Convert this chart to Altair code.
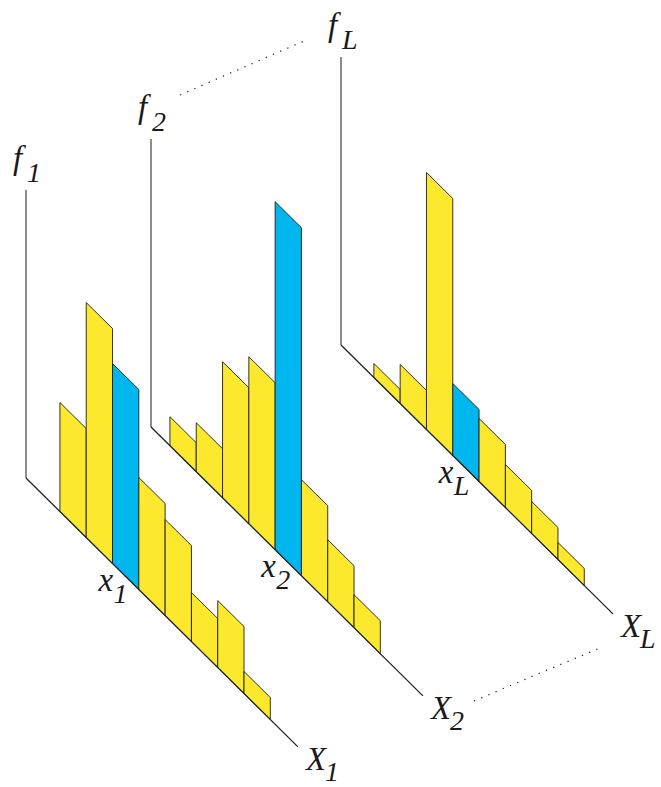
import altair as alt
import pandas as pd

W, H = 661, 787

# ---- data: frequency histograms of the L variables -------------------------
panel_names = ["1", "2", "L"]
freq_1 = [10.9, 23.5, 20.0, 11.2, 9.6, 4.9, 6.7, 2.2]
freq_2 = [2.9, 4.9, 13.6, 16.7, 34.8, 9.6, 6.2, 3.3]
freq_L = [1.4, 3.9, 25.7, 7.2, 6.3, 4.3, 3.2, 1.7]
observed_bin = [2, 4, 3]          # bin that holds the observed value x_k
freqs = [freq_1, freq_2, freq_L]

# ---- oblique projection layout ----------------------------------------------
origin_x = [26, 151, 341]         # corner of each panel (foot of the f axis)
origin_y = [478, 427, 345]
first_bin = [1.29, 0.72, 1.25]    # offset of the first bin along the X axis
AXIS_LEN = 288                    # height of the vertical f axis
AXIS_BINS = 10.34                 # length of the X axis in bin units
BIN_DX, BIN_DY = 26.3, 26.0       # screen step of one bin along the X axis
PX_PER_UNIT = 10.0                # screen pixels per unit of frequency

YELLOW = "#FCE82C"
BLUE = "#00B6EE"
FONT = "Liberation Serif"
MAIN_SIZE = 33
SUB_SIZE = 28


def proj(p, u, v=0.0):
    """Screen position of bin coordinate u and frequency v in panel p."""
    return (origin_x[p] + u * BIN_DX, origin_y[p] + u * BIN_DY - v * PX_PER_UNIT)


# bars as parallelograms: two rows (left / right edge) per bar
bar_rows = []
for p in reversed(range(len(panel_names))):
    for i, f in enumerate(freqs[p]):
        kind = "obs" if i == observed_bin[p] else "other"
        for u in (first_bin[p] + i, first_bin[p] + i + 1):
            x, ytop = proj(p, u, f)
            _, ybot = proj(p, u, 0.0)
            bar_rows.append({"bar": f"{panel_names[p]}-{i}", "kind": kind,
                             "x": x, "ytop": ytop, "ybot": ybot})
bars = pd.DataFrame(bar_rows)

# vertical f axes and oblique X axes
f_axes, x_axes = [], []
for p in range(len(panel_names)):
    x0, y0 = proj(p, 0)
    x1, y1 = proj(p, AXIS_BINS)
    f_axes.append({"x": x0, "y": y0 - AXIS_LEN, "x2": x0, "y2": y0})
    x_axes.append({"x": x0, "y": y0, "x2": x1, "y2": y1})
f_axes = pd.DataFrame(f_axes)
x_axes = pd.DataFrame(x_axes)

# dotted connectors between panel 2 and panel L (the omitted panels)
ax2_top = (origin_x[1], origin_y[1] - AXIS_LEN)
axL_top = (origin_x[2], origin_y[2] - AXIS_LEN)
end2 = proj(1, AXIS_BINS)
endL = proj(2, AXIS_BINS)
dots = pd.DataFrame([
    {"x": ax2_top[0] + 29, "y": ax2_top[1] - 44, "x2": axL_top[0] - 37, "y2": axL_top[1] - 16},
    {"x": end2[0] + 51, "y": end2[1] + 5, "x2": endL[0] - 15, "y2": endL[1] + 35},
])

# labels: main letter + subscript
main_lbl, sub_lbl = [], []
for p, name in enumerate(panel_names):
    ax_x, ax_y = origin_x[p], origin_y[p] - AXIS_LEN
    main_lbl.append({"x": ax_x - 13, "y": ax_y - 21, "t": "f"})
    sub_lbl.append({"x": ax_x + 1, "y": ax_y - 8, "t": name})

    ex, ey = proj(p, AXIS_BINS)
    main_lbl.append({"x": ex + 8, "y": ey + 23, "t": "X"})
    sub_lbl.append({"x": ex + 27, "y": ey + 34, "t": name})

    bx, by = proj(p, first_bin[p] + observed_bin[p])
    main_lbl.append({"x": bx - 14, "y": by + 27, "t": "x"})
    sub_lbl.append({"x": bx + 1, "y": by + 39, "t": name})
main_lbl = pd.DataFrame(main_lbl)
sub_lbl = pd.DataFrame(sub_lbl)

xs = alt.Scale(domain=[0, W], range=[0, W], nice=False, zero=False)
ys = alt.Scale(domain=[0, H], range=[0, H], nice=False, zero=False)


def X(field):
    return alt.X(field, type="quantitative", scale=xs, axis=None)


def Y(field):
    return alt.Y(field, type="quantitative", scale=ys, axis=None)


f_axis_layer = alt.Chart(f_axes).mark_rule(color="#666666", strokeWidth=1.5).encode(
    x=X("x"), y=Y("y"), x2="x2", y2="y2")

bar_layer = alt.Chart(bars).mark_area(
    orient="vertical", stroke="#1e1e1e", strokeWidth=0.9, opacity=1,
    strokeJoin="miter").encode(
    x=X("x"), y=Y("ytop"), y2="ybot", detail="bar:N",
    color=alt.Color("kind:N", scale=alt.Scale(domain=["obs", "other"], range=[BLUE, YELLOW]),
                    legend=None))

x_axis_layer = alt.Chart(x_axes).mark_rule(color="#222222", strokeWidth=1.3).encode(
    x=X("x"), y=Y("y"), x2="x2", y2="y2")

dot_layer = alt.Chart(dots).mark_rule(color="#333333", strokeWidth=1.3,
                                      strokeDash=[1.3, 6.5]).encode(
    x=X("x"), y=Y("y"), x2="x2", y2="y2")

main_text = alt.Chart(main_lbl).mark_text(
    font=FONT, fontStyle="italic", fontSize=MAIN_SIZE, align="left",
    baseline="alphabetic", color="#1a1a1a").encode(x=X("x"), y=Y("y"), text="t:N")

sub_text = alt.Chart(sub_lbl).mark_text(
    font=FONT, fontStyle="italic", fontSize=SUB_SIZE, align="left",
    baseline="alphabetic", color="#1a1a1a").encode(x=X("x"), y=Y("y"), text="t:N")

chart = alt.layer(
    f_axis_layer, bar_layer, x_axis_layer, dot_layer, main_text, sub_text
).properties(
    width=W, height=H, padding=0, autosize=alt.AutoSizeParams(type="none"),
    background="white"
).configure_view(stroke=None)

chart.save("out.html", embed_options={"renderer": "svg", "actions": False})
